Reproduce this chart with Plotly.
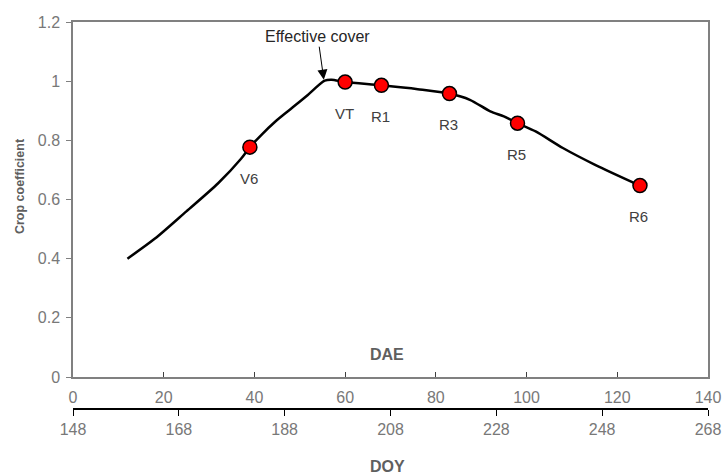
import plotly.graph_objects as go

# Kc curve (DAE vs crop coefficient)
curve_dae = [12, 18, 25, 32, 37, 39, 41.5, 44.5, 48, 51.5, 55.5, 57, 60, 68, 76, 83,
             87.5, 92, 95, 98, 102, 108, 115, 125]
curve_kc = [0.40, 0.467, 0.560, 0.655, 0.737, 0.777, 0.818, 0.862, 0.906, 0.950, 1.002, 1.005,
            0.997, 0.986, 0.973, 0.958, 0.937, 0.898, 0.881, 0.858, 0.830, 0.774, 0.718, 0.647]

# Growth stages
stage_dae = [39, 60, 68, 83, 98, 125]
stage_kc = [0.777, 0.997, 0.986, 0.958, 0.858, 0.647]
stage_labels = ["V6", "VT", "R1", "R3", "R5", "R6"]

effective_cover_dae = 55.3
effective_cover_kc = 1.005

dae_ticks = [0, 20, 40, 60, 80, 100, 120, 140]
doy_ticks = [148, 168, 188, 208, 228, 248, 268]
y_ticks = [0, 0.2, 0.4, 0.6, 0.8, 1, 1.2]
y_ticktext = ["0", "0.2", "0.4", "0.6", "0.8", "1", "1.2"]

FONT = "Liberation Sans, Arial, sans-serif"
GRAY = "#787878"
AXIS_GRAY = "#808080"
TITLE_GRAY = "#5f5f5f"

fig = go.Figure()
fig.add_trace(go.Scatter(x=curve_dae, y=curve_kc, mode="lines",
                         line=dict(color="black", width=2.5, shape="spline", smoothing=0.8),
                         hoverinfo="skip", showlegend=False))
fig.add_trace(go.Scatter(x=stage_dae, y=stage_kc, mode="markers",
                         marker=dict(color="#ff0000", size=14, line=dict(color="black", width=1.5)),
                         showlegend=False))
# dummy trace for the DOY axis
fig.add_trace(go.Scatter(x=[doy_ticks[0], doy_ticks[-1]], y=[None, None], xaxis="x2", yaxis="y",
                         mode="markers", showlegend=False, hoverinfo="skip"))

for xd, yk, lab in zip(stage_dae, stage_kc, stage_labels):
    fig.add_annotation(x=xd, y=yk, text=lab, showarrow=False, yshift=-31, xshift=-1,
                       font=dict(family=FONT, size=15, color="#404040"))

fig.add_annotation(x=effective_cover_dae, y=effective_cover_kc, text="Effective cover",
                   showarrow=True, ax=-6, ay=-43, arrowhead=2, arrowsize=2, arrowwidth=1,
                   arrowcolor="black", font=dict(family=FONT, size=16, color="#262626"))

fig.add_annotation(xref="paper", yref="paper", x=0.4945, y=0.142, text="<b>DAE</b>",
                   xanchor="center", yanchor="middle",
                   showarrow=False, font=dict(family=FONT, size=16, color=TITLE_GRAY))
fig.add_annotation(xref="paper", yref="paper", x=0.4945, y=-0.149, text="<b>DOY</b>",
                   xanchor="center", yanchor="middle",
                   showarrow=False, font=dict(family=FONT, size=16, color=TITLE_GRAY))
fig.add_annotation(xref="paper", yref="paper", x=-0.0835, y=0.576, text="<b>Crop coefficient</b>",
                   xanchor="center", yanchor="middle",
                   textangle=-90, showarrow=False, font=dict(family=FONT, size=12.5, color=TITLE_GRAY))

y_dom0 = 32 / 387

fig.update_layout(
    width=723, height=476,
    margin=dict(l=73, r=15, t=22, b=67),
    paper_bgcolor="white", plot_bgcolor="white",
    font=dict(family=FONT, size=16, color=GRAY),
    xaxis=dict(range=[0, 140], tickvals=dae_ticks, ticks="inside", ticklen=5, tickcolor="#404040",
               showline=True, linecolor=AXIS_GRAY, linewidth=1.5, mirror=True, showgrid=False,
               zeroline=False, anchor="y", ticklabelstandoff=5, automargin=False,
               tickfont=dict(family=FONT, size=16, color=GRAY)),
    xaxis2=dict(range=[148, 268], tickvals=doy_ticks, ticks="outside", ticklen=6, tickcolor="black",
                showline=True, linecolor="black", linewidth=1.5, showgrid=False, zeroline=False,
                anchor="free", position=0, overlaying="x", side="bottom", automargin=False,
                tickfont=dict(family=FONT, size=16, color=GRAY)),
    yaxis=dict(range=[0, 1.2], tickvals=y_ticks, ticktext=y_ticktext,
               ticks="outside", ticklen=5, tickcolor=AXIS_GRAY, ticklabelstandoff=3,
               showline=True, linecolor=AXIS_GRAY, linewidth=1.5, mirror=True, showgrid=False,
               zeroline=False, domain=[y_dom0, 1], automargin=False,
               tickfont=dict(family=FONT, size=16, color=GRAY)),
)

# remove the browser's default body margin so the figure fills the window exactly
fig.write_html("out.html", config={"displayModeBar": False},
               post_script="document.body.style.margin='0';document.body.style.overflow='hidden';")
